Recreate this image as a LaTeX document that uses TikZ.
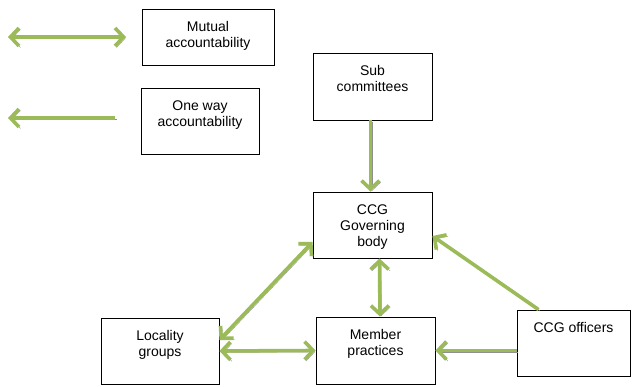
\documentclass[tikz,border=0pt]{standalone}
\usepackage{fontspec}
\setmainfont{Liberation Sans}
\usetikzlibrary{arrows.meta,positioning}

\definecolor{accgreen}{HTML}{9BBB59}
\definecolor{accshadow}{HTML}{909090}

\tikzset{
	box/.style={draw, line width=0.9pt, minimum width=119pt, minimum height=66pt, inner sep=0pt},
	boxtext/.style={anchor=north, align=center, font=\fontsize{14}{16}\selectfont, inner sep=2pt, yshift=-11pt},
	acc/.style={draw=accgreen, line width=3.6pt, -{Straight Barb[length=8.5pt, width=18pt]},
		preaction={draw=accshadow, transform canvas={shift={(1.5pt,-1.5pt)}}}},
	mutualacc/.style={acc, {Straight Barb[length=8.5pt, width=18pt]}-{Straight Barb[length=8.5pt, width=18pt]}}
}

\begin{document}
\begin{tikzpicture}[x=1pt, y=-1pt]
	\useasboundingbox (0,0) rectangle (632,387);

	% key
	\node[box, minimum width=132pt, minimum height=56pt, label={[boxtext]north:{Mutual\\accountability}}] (mutual) at (208,37) {};
	\node[box, minimum width=118pt, label={[boxtext]north:{One way\\accountability}}] (oneway) at (200,121) {};
	\coordinate (mutualL) at (8,37);
	\coordinate (mutualR) at (126,37);
	\coordinate (onewayL) at (8,118);
	\coordinate (onewayR) at (115,118);
	\draw[mutualacc] (mutualL) -- (mutualR);
	\draw[acc] (onewayR) -- (onewayL);

	% structure
	\node[box, minimum height=67pt, label={[boxtext]north:{Sub\\committees}}] (sub) at (372.5,86.5) {};
	\node[box, label={[boxtext]north:{CCG\\Governing\\body}}] (gov) at (372.5,225) {};
	\node[box, minimum height=67pt, label={[boxtext]north:{Member\\practices}}] (member) at (375.5,350.5) {};
	\node[box, minimum width=118pt, label={[boxtext]north:{Locality\\groups}}] (locality) at (160,351) {};
	\node[box, minimum width=113pt, label={[boxtext]north:{CCG officers}}] (officers) at (573.5,343) {};

	\draw[acc] ([xshift=-2pt]sub.south) -- ([xshift=-2pt]gov.north);
	\draw[mutualacc] ([xshift=7pt]gov.south) -- ([xshift=4.5pt]member.north);
	\draw[mutualacc] ([yshift=11pt]locality.east) -- ([yshift=-17pt]gov.west);
	\draw[mutualacc] (locality.east) -- (member.west);
	\draw[acc] (officers.west |- member.east) -- (member.east);
	\draw[acc] ([xshift=-35pt]officers.north) -- ([yshift=-11pt]gov.east);
\end{tikzpicture}
\end{document}
